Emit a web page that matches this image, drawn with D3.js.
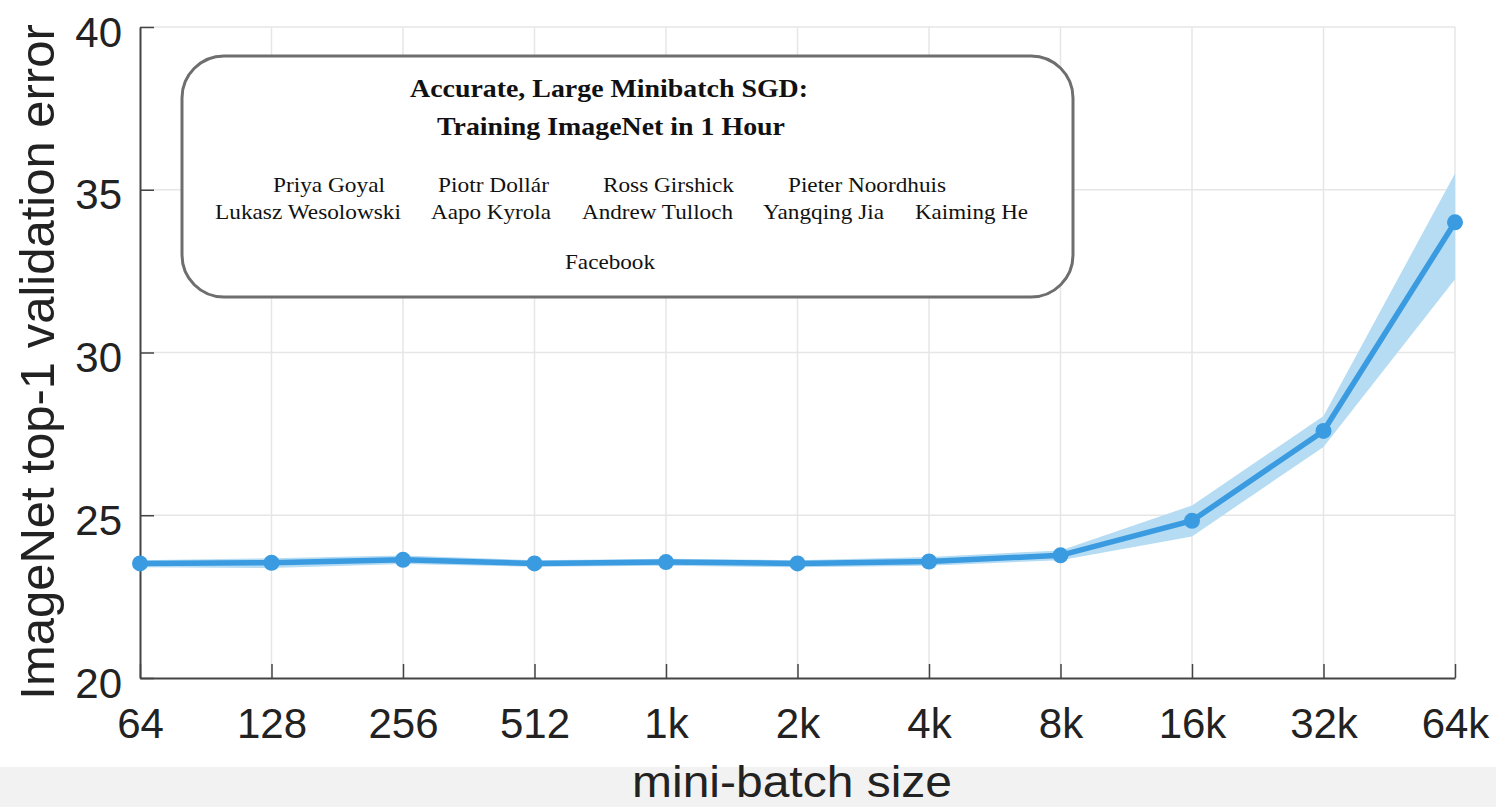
<!DOCTYPE html>
<html>
<head>
<meta charset="utf-8">
<script src="https://cdn.jsdelivr.net/npm/d3@7"></script>
<style>
  html, body { margin: 0; padding: 0; background: #fff; }
  svg { display: block; }
</style>
</head>
<body>
<svg id="chart" width="1496" height="807"></svg>
<script>
// ---- data ----
const batchSizes = [64, 128, 256, 512, 1024, 2048, 4096, 8192, 16384, 32768, 65536];
const tickLabels = ["64", "128", "256", "512", "1k", "2k", "4k", "8k", "16k", "32k", "64k"];
const errorMean  = [23.52, 23.54, 23.63, 23.52, 23.56, 23.52, 23.58, 23.77, 24.83, 27.59, 34.0];
const errorLow   = [23.40, 23.38, 23.50, 23.42, 23.45, 23.40, 23.45, 23.62, 24.35, 27.10, 32.25];
const errorHigh  = [23.62, 23.68, 23.76, 23.62, 23.66, 23.62, 23.72, 23.92, 25.30, 28.05, 35.50];
const yTicks = [20, 25, 30, 35, 40];
const titleLines = ["Accurate, Large Minibatch SGD:", "Training ImageNet in 1 Hour"];
const authorsRow1 = ["Priya Goyal", "Piotr Dollár", "Ross Girshick", "Pieter Noordhuis"];
const authorsRow2 = ["Lukasz Wesolowski", "Aapo Kyrola", "Andrew Tulloch", "Yangqing Jia", "Kaiming He"];
const affiliation = "Facebook";
const xLabel = "mini-batch size";
const yLabel = "ImageNet top-1 validation error";

(function () {
// ---- layout ----
const svg = d3.select("#chart");
const W = 1496, H = 807;
const pLeft = 140, pRight = 1455, pTop = 27, pBottom = 678;

const x = d3.scaleLog().base(2).domain([64, 65536]).range([pLeft, pRight]);
const y = d3.scaleLinear().domain([20, 40]).range([pBottom, pTop]);

// bottom grey band
svg.append("rect").attr("x", 0).attr("y", 767).attr("width", W).attr("height", H - 767)
  .attr("fill", "#f2f2f2");

// grid
const grid = svg.append("g");
grid.selectAll("line.vg").data(batchSizes.slice(1)).join("line")
  .attr("x1", d => x(d)).attr("x2", d => x(d))
  .attr("y1", pTop).attr("y2", pBottom)
  .attr("stroke", "#e6e6e6").attr("stroke-width", 1.5);
grid.selectAll("line.hg").data(yTicks.slice(1)).join("line")
  .attr("x1", pLeft).attr("x2", pRight)
  .attr("y1", d => y(d)).attr("y2", d => y(d))
  .attr("stroke", "#e6e6e6").attr("stroke-width", 1.5);

// axes
const xAxis = d3.axisBottom(x).tickValues(batchSizes)
  .tickFormat((d, i) => tickLabels[i]).tickSizeInner(-14).tickSizeOuter(0).tickPadding(32);
const gx = svg.append("g").attr("transform", `translate(0,${pBottom})`).call(xAxis);
gx.select(".domain").attr("stroke", "#444").attr("stroke-width", 2);
gx.selectAll(".tick line").attr("stroke", "#444").attr("stroke-width", 1.5);
gx.selectAll(".tick text").attr("fill", "#222")
  .attr("font-family", "Liberation Sans, Arial, sans-serif").attr("font-size", 42)
  .attr("dy", 0).attr("y", 60);

const yAxis = d3.axisLeft(y).tickValues(yTicks).tickSizeInner(-14).tickSizeOuter(0).tickPadding(20);
const gy = svg.append("g").attr("transform", `translate(${pLeft},0)`).call(yAxis);
gy.select(".domain").attr("stroke", "#444").attr("stroke-width", 2);
gy.selectAll(".tick line").attr("stroke", "#444").attr("stroke-width", 1.5);
gy.selectAll(".tick text").attr("fill", "#222")
  .attr("font-family", "Liberation Sans, Arial, sans-serif").attr("font-size", 42)
  .attr("dy", 0).attr("y", 19).attr("x", -18);

// axis labels
svg.append("text").attr("x", 632).attr("y", 797)
  .attr("textLength", 320).attr("lengthAdjust", "spacingAndGlyphs")
  .attr("font-family", "Liberation Sans, Arial, sans-serif").attr("font-size", 44)
  .attr("fill", "#222").text(xLabel);
svg.append("text").attr("transform", "translate(54,362) rotate(-90)").attr("text-anchor", "middle")
  .attr("font-family", "Liberation Sans, Arial, sans-serif").attr("font-size", 49)
  .attr("fill", "#222").text(yLabel);

// band + line + markers
const idx = d3.range(batchSizes.length);
const area = d3.area().x(i => x(batchSizes[i])).y0(i => y(errorLow[i])).y1(i => y(errorHigh[i]));
svg.append("path").datum(idx).attr("d", area).attr("fill", "#b6dcf3");
const line = d3.line().x(i => x(batchSizes[i])).y(i => y(errorMean[i]));
svg.append("path").datum(idx).attr("d", line).attr("fill", "none")
  .attr("stroke", "#3a9be0").attr("stroke-width", 5.5);
svg.selectAll("circle.pt").data(idx).join("circle")
  .attr("cx", i => x(batchSizes[i])).attr("cy", i => y(errorMean[i])).attr("r", 8)
  .attr("fill", "#3a9be0");

// title box
const box = svg.append("g");
box.append("rect").attr("x", 182).attr("y", 56).attr("width", 891).attr("height", 241)
  .attr("rx", 42).attr("ry", 42).attr("fill", "#fff").attr("stroke", "#6e6e6e").attr("stroke-width", 3);
const serif = "Liberation Serif, Times New Roman, serif";
const titleX = [410, 437], titleW = [398, 348];
box.selectAll("text.title").data(titleLines).join("text")
  .attr("x", (d, i) => titleX[i]).attr("y", (d, i) => 97 + i * 38)
  .attr("textLength", (d, i) => titleW[i]).attr("lengthAdjust", "spacingAndGlyphs")
  .attr("font-family", serif).attr("font-weight", "bold").attr("font-size", 26)
  .attr("fill", "#111").text(d => d);
const row1X = [273, 438, 603, 788], row1W = [112, 111, 131, 158];
const row2X = [215, 431, 582, 763, 915], row2W = [186, 120, 151, 121, 113];
box.selectAll("text.a1").data(authorsRow1).join("text")
  .attr("x", (d, i) => row1X[i]).attr("y", 192)
  .attr("textLength", (d, i) => row1W[i]).attr("lengthAdjust", "spacingAndGlyphs")
  .attr("font-family", serif).attr("font-size", 21).attr("fill", "#111").text(d => d);
box.selectAll("text.a2").data(authorsRow2).join("text")
  .attr("x", (d, i) => row2X[i]).attr("y", 219)
  .attr("textLength", (d, i) => row2W[i]).attr("lengthAdjust", "spacingAndGlyphs")
  .attr("font-family", serif).attr("font-size", 21).attr("fill", "#111").text(d => d);
box.append("text").attr("x", 565).attr("y", 269)
  .attr("textLength", 90).attr("lengthAdjust", "spacingAndGlyphs")
  .attr("font-family", serif).attr("font-size", 21).attr("fill", "#111").text(affiliation);
})();
</script>
</body>
</html>
